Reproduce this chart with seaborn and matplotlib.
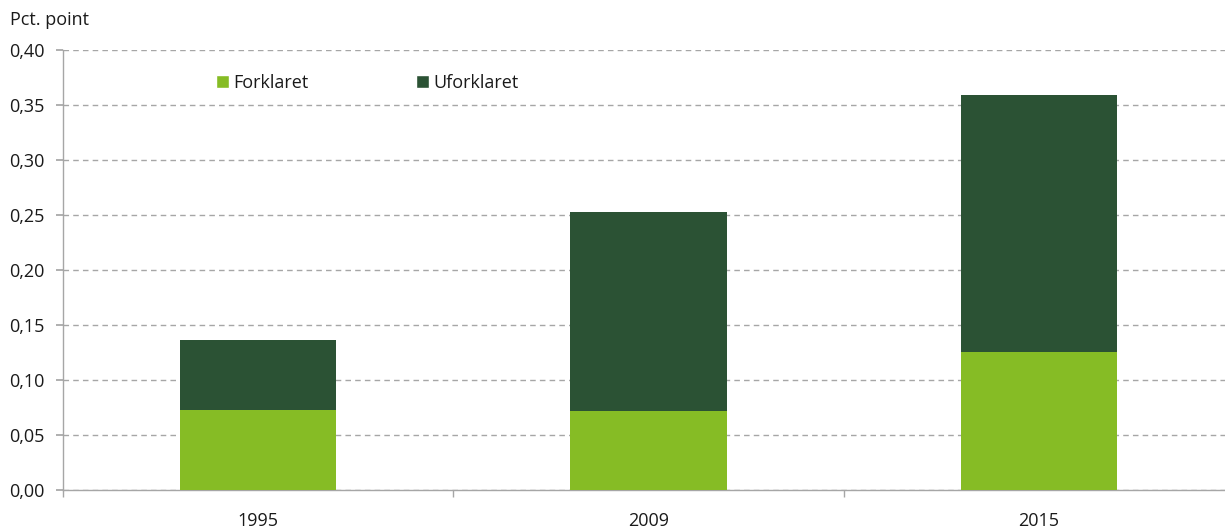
import matplotlib
matplotlib.use("Agg")
import matplotlib.pyplot as plt
import seaborn as sns
import pandas as pd
import numpy as np
from matplotlib.ticker import FixedLocator, MultipleLocator, FuncFormatter
from matplotlib.patches import Patch

years = ["1995", "2009", "2015"]
forklaret = [0.073, 0.072, 0.1255]
uforklaret = [0.063, 0.181, 0.2335]

c_light = "#86BC25"
c_dark = "#2B5234"

sns.set_theme(style="white")
plt.rcParams['font.family'] = ['Open Sans', 'DejaVu Sans']

df = pd.DataFrame({"year": years, "Forklaret": forklaret, "Uforklaret": uforklaret})
df["total"] = df["Forklaret"] + df["Uforklaret"]

fig = plt.figure(figsize=(12.25, 5.29), dpi=100)
ax = fig.add_axes([63 / 1225, 39 / 529, 1171 / 1225, 440 / 529])

sns.barplot(data=df, x="year", y="total", color=c_dark, width=0.4, saturation=1, ax=ax, zorder=3, linewidth=0)
sns.barplot(data=df, x="year", y="Forklaret", color=c_light, width=0.4, saturation=1, ax=ax, zorder=3, linewidth=0)

ax.set_xlim(-0.5, 2.5)
ax.set_ylim(0, 0.40)
ax.yaxis.set_major_locator(MultipleLocator(0.05))
ax.yaxis.set_major_formatter(FuncFormatter(lambda v, p: f"{v:.2f}".replace(".", ",")))
ax.grid(axis="y", color="#a6a6a6", linestyle=(0, (4, 3)), linewidth=1, zorder=0)
ax.set_axisbelow(True)
ax.set_xlabel("")
ax.set_ylabel("")

for s in ["top", "right"]:
    ax.spines[s].set_visible(False)
for s in ["left", "bottom"]:
    ax.spines[s].set_color("#a6a6a6")
    ax.spines[s].set_linewidth(1)

fs = 13
ax.tick_params(axis="y", which="major", left=True, length=5, color="#a6a6a6", labelsize=fs, labelcolor="#1a1a1a", pad=8)
ax.tick_params(axis="x", which="major", length=0, labelsize=fs, labelcolor="#1a1a1a", pad=16)
ax.xaxis.set_minor_locator(FixedLocator([-0.5, 0.5, 1.5, 2.5]))
ax.tick_params(axis="x", which="minor", bottom=True, length=5, color="#a6a6a6", direction="out")

handles = [Patch(facecolor=c_light, label="Forklaret"), Patch(facecolor=c_dark, label="Uforklaret")]
ax.legend(handles=handles, loc="upper left", bbox_to_anchor=(0.1165, 0.982), ncol=2, frameon=False,
          fontsize=fs, handlelength=0.75, handleheight=0.75, handletextpad=0.25, columnspacing=5.9,
          labelcolor="#1a1a1a")

fig.text(0.008, 0.962, "Pct. point", fontsize=fs, color="#1a1a1a", ha="left", va="center")

fig.savefig("out.png", dpi=100)
